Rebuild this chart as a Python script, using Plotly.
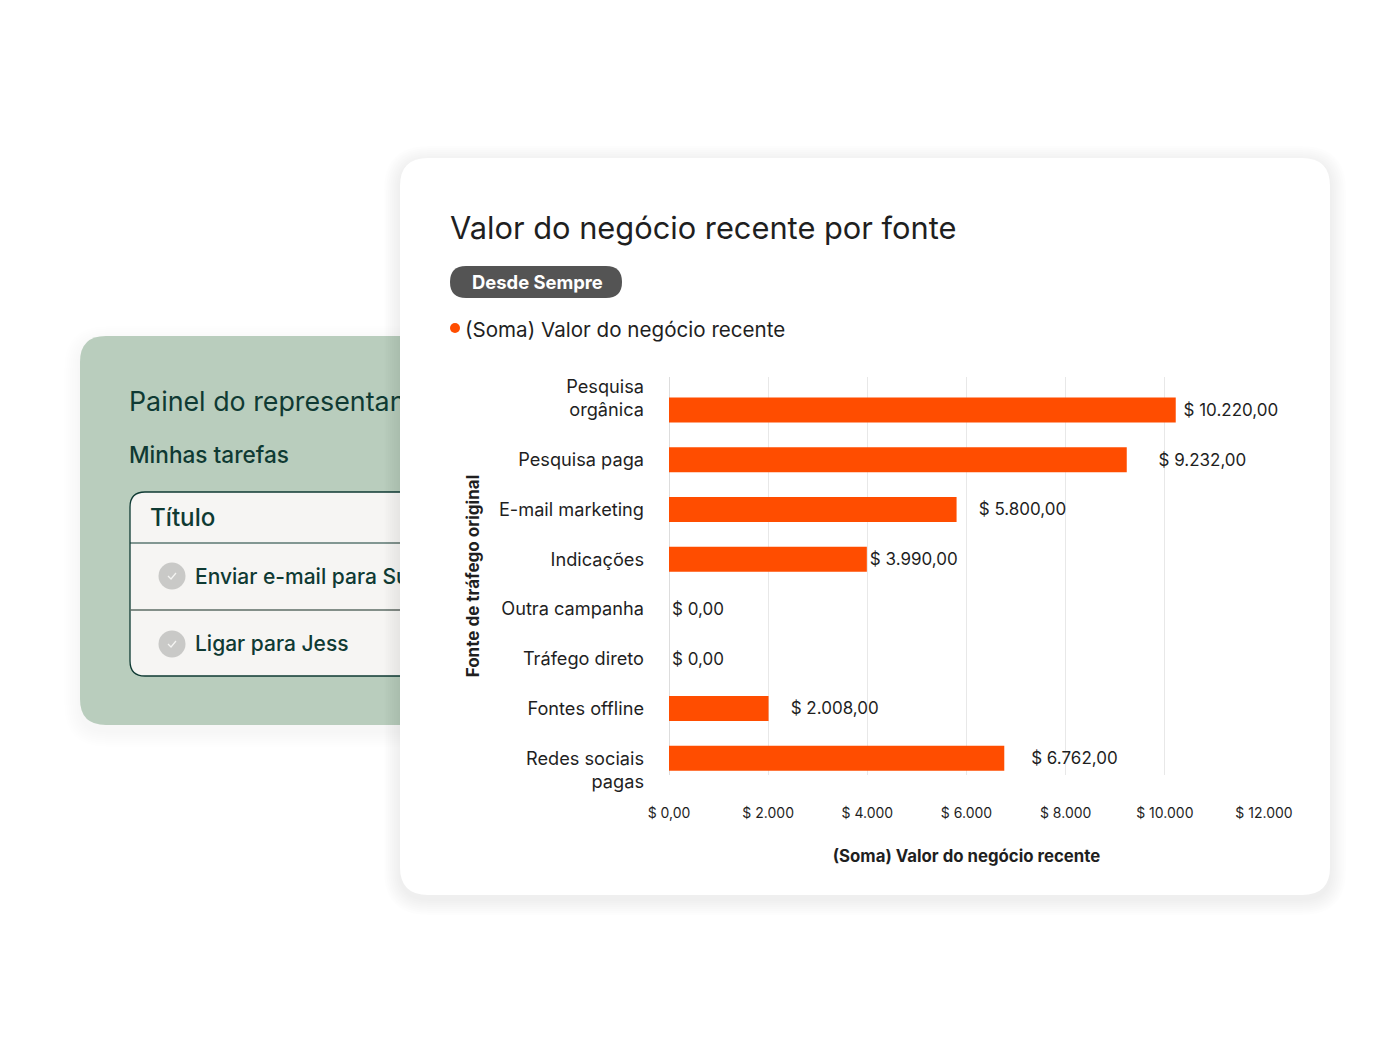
import plotly.graph_objects as go

W, H = 1400, 1050
FONT = "Inter"

# --- chart data
categories = ["Pesquisa<br>orgânica<br>&nbsp;", "Pesquisa paga", "E-mail marketing", "Indicações",
              "Outra campanha", "Tráfego direto", "Fontes offline", "&nbsp;<br>Redes sociais<br>pagas"]
values = [10220, 9232, 5800, 3990, 0, 0, 2008, 6762]
value_labels = ["$ 10.220,00", "$ 9.232,00", "$ 5.800,00", "$ 3.990,00",
                "$ 0,00", "$ 0,00", "$ 2.008,00", "$ 6.762,00"]
label_padding = [1, 6, 4, 0, 0, 0, 4, 5]
tick_values = [0, 2000, 4000, 6000, 8000, 10000, 12000]
tick_labels = ["$ 0,00", "$ 2.000", "$ 4.000", "$ 6.000", "$ 8.000", "$ 10.000", "$ 12.000"]

# --- text of the panel behind the card
panel_texts = ["Painel do representante", "Minhas tarefas", "Título",
               "Enviar e-mail para Sue", "Ligar para Jess"]
panel_x = [129, 129, 150, 195, 195]
panel_y = [404, 457, 520, 579, 646]
panel_sizes = [26.8, 22.6, 24.2, 21, 21]
panel_weights = [400, 500, 500, 500, 500]

ORANGE = "#ff4d00"
DARK = "#0f3a33"
INK = "#1f1f1f"


def px(x):
    return x / W


def py(y):
    return 1 - y / H


def rrect(x0, y0, x1, y1, r, fill, line=None, lw=0, layer="below"):
    def p(x, y):
        return f"{px(x):.5f},{py(y):.5f}"
    path = (f"M{p(x0 + r, y0)} L{p(x1 - r, y0)} Q{p(x1, y0)} {p(x1, y0 + r)} "
            f"L{p(x1, y1 - r)} Q{p(x1, y1)} {p(x1 - r, y1)} L{p(x0 + r, y1)} "
            f"Q{p(x0, y1)} {p(x0, y1 - r)} L{p(x0, y0 + r)} Q{p(x0, y0)} {p(x0 + r, y0)} Z")
    return dict(type="path", path=path, xref="paper", yref="paper", fillcolor=fill,
                line=dict(color=line or "rgba(0,0,0,0)", width=lw), layer=layer)


def shadow(x0, y0, x1, y1, r, dy, spread, steps, alpha):
    out = []
    for i in range(steps, 0, -1):
        s = spread * i / steps
        out.append(rrect(x0 - s, y0 - s + dy, x1 + s, y1 + s + dy, r + s, f"rgba(20,40,30,{alpha})"))
    return out


def hline(x0, x1, y, color, width):
    return dict(type="line", xref="paper", yref="paper", x0=px(x0), x1=px(x1), y0=py(y), y1=py(y),
                line=dict(color=color, width=width), layer="below")


def circle(cx, cy, r, fill):
    return dict(type="circle", xref="paper", yref="paper", x0=px(cx - r), x1=px(cx + r),
                y0=py(cy + r), y1=py(cy - r), fillcolor=fill, line=dict(width=0), layer="below")


def check(cx, cy):
    path = (f"M{px(cx - 4):.5f},{py(cy):.5f} L{px(cx - 1):.5f},{py(cy + 3):.5f} "
            f"L{px(cx + 4):.5f},{py(cy - 3):.5f}")
    return dict(type="path", path=path, xref="paper", yref="paper",
                line=dict(color="#f4f4f2", width=1.3), layer="below")


shapes = []
shapes += shadow(80, 336, 560, 725, 26, 6, 16, 8, 0.005)
shapes.append(rrect(80, 336, 560, 725, 26, "#b9cdbd"))
shapes.append(rrect(130, 492, 560, 676, 15, "#f6f5f3", DARK, 1.3))
shapes.append(hline(130, 560, 543, DARK, 1.2))
shapes.append(hline(130, 560, 610, "#5d6c66", 1.4))
for cy in (576, 644):
    shapes.append(circle(172, cy, 13.5, "#c9c9c7"))
    shapes.append(check(172, cy))
shapes += shadow(400, 158, 1330, 895, 28, 4, 16, 8, 0.006)
shapes.append(rrect(400, 158, 1330, 895, 28, "#ffffff"))
shapes.append(rrect(450, 266, 622, 298, 16, "#545454"))
shapes.append(circle(455, 328, 5, ORANGE))

fig = go.Figure()
fig.add_trace(go.Bar(
    y=categories, x=values, orientation="h", marker=dict(color=ORANGE, line=dict(width=0)),
    text=["\u00a0" * n + t for n, t in zip(label_padding, value_labels)],
    textposition="outside", cliponaxis=False, textangle=0,
    textfont=dict(family=FONT, size=17, color=INK), hoverinfo="skip", showlegend=False,
))
fig.add_trace(go.Scatter(
    x=panel_x, y=panel_y, text=panel_texts, mode="text", textposition="middle right",
    textfont=dict(family=FONT, size=panel_sizes, color=DARK, weight=panel_weights),
    xaxis="x2", yaxis="y2", cliponaxis=True, hoverinfo="skip", showlegend=False,
))

annotations = [
    dict(text="Valor do negócio recente por fonte", x=px(448), y=py(228), size=30.8, color=INK, weight=400),
    dict(text="Desde Sempre", x=px(470), y=py(282), size=18.4, color="#ffffff", weight=700),
    dict(text="(Soma) Valor do negócio recente", x=px(463), y=py(329), size=20.6, color=INK, weight=400),
]
annotations = [
    dict(text=a["text"], x=a["x"], y=a["y"], xref="paper", yref="paper", xanchor="left", yanchor="middle",
         showarrow=False, font=dict(family=FONT, size=a["size"], color=a["color"], weight=a["weight"]))
    for a in annotations
]

fig.update_layout(
    width=W, height=H, margin=dict(l=0, r=0, t=0, b=0, autoexpand=False), paper_bgcolor="#ffffff",
    plot_bgcolor="rgba(0,0,0,0)",
    bargap=0.5, shapes=shapes, annotations=annotations, font=dict(family=FONT, color=INK),
    xaxis=dict(domain=[px(669), px(1264)], range=[0, 12000], tickvals=tick_values, ticktext=tick_labels,
               tickfont=dict(size=14, color=INK), ticklabelstandoff=28, ticks="",
               showgrid=True, gridcolor="#e8e8e8", gridwidth=1, zeroline=True, zerolinecolor="#dddddd",
               zerolinewidth=1, showline=False,
               title=dict(text="<b>(Soma) Valor do negócio recente</b>", font=dict(size=16.8, color=INK), standoff=30)),
    yaxis=dict(domain=[py(775), py(377)], range=[7.337, -0.663], type="category", ticks="",
               tickfont=dict(size=18.2, color=INK), ticklabelstandoff=24, showgrid=False, showline=False,
               title=dict(text="<b>Fonte de tráfego original</b>", font=dict(size=17, color=INK), standoff=14)),
    xaxis2=dict(domain=[0, px(400)], range=[0, 400], visible=False, anchor="y2"),
    yaxis2=dict(domain=[0, 1], range=[H, 0], visible=False, anchor="x2"),
)

fig.write_html("out.html", config=dict(displayModeBar=False),
               post_script="document.body.style.margin='0';document.body.style.overflow='hidden';")
